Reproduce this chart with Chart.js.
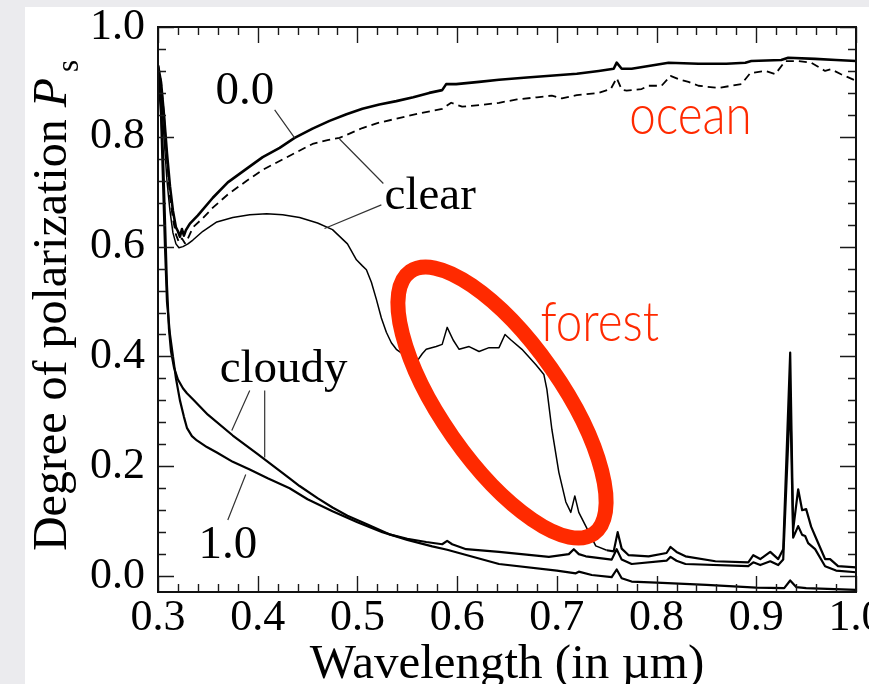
<!DOCTYPE html>
<html lang="en">
<head>
<meta charset="UTF-8" />
<title>Degree of polarization vs wavelength</title>
<script src="https://cdn.jsdelivr.net/npm/chart.js"></script>
<style>
  html, body { margin: 0; padding: 0; background: #ebebee; overflow: hidden; }
  .panel { position: absolute; left: 25px; top: 7px; width: 844px; height: 677px; background: #fff; }
</style>
</head>
<body>
<div class="panel"><canvas id="polChart"></canvas></div>
<script>
// axis ticks
const xTicks = [0.3, 0.4, 0.5, 0.6, 0.7, 0.8, 0.9, 1.0];
const yTicks = [0.0, 0.2, 0.4, 0.6, 0.8, 1.0];

// ocean, cloud optical thickness 0.0 (solid)
const ocean00X = [0.300,0.303,0.306,0.309,0.312,0.315,0.318,0.320,0.322,0.324,0.326,0.328,0.332,0.340,0.355,0.370,0.389,0.405,0.422,0.437,0.455,0.472,0.489,0.505,0.522,0.539,0.556,0.572,0.585,0.589,0.599,0.622,0.642,0.670,0.700,0.720,0.742,0.757,0.760,0.765,0.775,0.792,0.812,0.842,0.870,0.889,0.895,0.925,0.932,0.959,0.980,1.000];
const ocean00Y = [0.930,0.900,0.840,0.770,0.710,0.665,0.635,0.628,0.618,0.632,0.620,0.630,0.642,0.657,0.689,0.717,0.742,0.763,0.780,0.798,0.815,0.829,0.841,0.851,0.859,0.865,0.872,0.880,0.885,0.896,0.896,0.900,0.904,0.908,0.912,0.915,0.920,0.924,0.935,0.924,0.924,0.929,0.935,0.933,0.933,0.935,0.938,0.940,0.944,0.942,0.940,0.938];

// ocean, clear sky (dashed)
const oceanClearX = [0.300,0.303,0.306,0.309,0.312,0.315,0.318,0.321,0.324,0.327,0.330,0.335,0.345,0.355,0.370,0.389,0.405,0.422,0.440,0.455,0.470,0.482,0.505,0.520,0.539,0.560,0.585,0.594,0.605,0.625,0.642,0.660,0.680,0.695,0.705,0.720,0.742,0.754,0.760,0.765,0.770,0.785,0.792,0.805,0.814,0.822,0.832,0.842,0.862,0.885,0.894,0.909,0.919,0.929,0.942,0.955,0.969,0.975,0.985,1.000];
const oceanClearY = [0.930,0.900,0.840,0.760,0.690,0.650,0.622,0.608,0.615,0.606,0.615,0.635,0.652,0.671,0.695,0.720,0.740,0.756,0.773,0.787,0.794,0.798,0.816,0.825,0.833,0.842,0.851,0.862,0.855,0.858,0.862,0.868,0.872,0.875,0.870,0.876,0.880,0.887,0.907,0.886,0.884,0.887,0.893,0.893,0.911,0.905,0.900,0.893,0.889,0.896,0.916,0.920,0.914,0.938,0.938,0.935,0.920,0.923,0.914,0.902];

// forest, clear sky (thin)
const forestClearX = [0.300,0.303,0.306,0.309,0.312,0.315,0.318,0.321,0.325,0.330,0.335,0.345,0.359,0.375,0.392,0.409,0.425,0.442,0.460,0.475,0.490,0.499,0.505,0.509,0.514,0.519,0.524,0.529,0.534,0.539,0.545,0.552,0.560,0.565,0.569,0.579,0.585,0.590,0.596,0.602,0.612,0.622,0.632,0.642,0.648,0.654,0.665,0.679,0.687,0.690,0.695,0.702,0.709,0.714,0.718,0.722,0.729,0.739,0.750,0.757,0.761,0.765,0.772,0.792,0.810,0.814,0.820,0.829,0.859,0.892,0.897,0.904,0.914,0.922,0.927,0.934,0.937,0.942,0.946,0.950,0.955,0.959,0.969,0.974,0.982,1.000];
const forestClearY = [0.930,0.880,0.800,0.720,0.665,0.625,0.605,0.598,0.600,0.605,0.612,0.628,0.645,0.653,0.658,0.660,0.658,0.653,0.643,0.631,0.605,0.576,0.565,0.558,0.535,0.504,0.470,0.444,0.425,0.413,0.405,0.398,0.392,0.405,0.413,0.418,0.422,0.453,0.430,0.413,0.418,0.409,0.416,0.416,0.440,0.430,0.413,0.385,0.367,0.340,0.267,0.189,0.135,0.116,0.146,0.116,0.091,0.055,0.047,0.045,0.080,0.050,0.038,0.036,0.042,0.053,0.044,0.036,0.027,0.025,0.038,0.031,0.044,0.031,0.049,0.407,0.085,0.158,0.120,0.122,0.090,0.073,0.031,0.031,0.018,0.016];

// forest, cloudy
const cloudyX = [0.300,0.303,0.305,0.307,0.309,0.311,0.313,0.316,0.320,0.325,0.329,0.335,0.350,0.375,0.400,0.432,0.442,0.460,0.475,0.490,0.509,0.532,0.550,0.569,0.585,0.590,0.595,0.609,0.642,0.692,0.712,0.717,0.722,0.729,0.755,0.760,0.765,0.775,0.810,0.814,0.820,0.829,0.892,0.897,0.904,0.914,0.922,0.927,0.934,0.937,0.942,0.946,0.949,0.952,0.959,0.969,0.980,1.000];
const cloudyY = [0.930,0.860,0.770,0.650,0.530,0.450,0.410,0.380,0.358,0.342,0.333,0.322,0.294,0.256,0.222,0.178,0.164,0.142,0.125,0.110,0.095,0.076,0.068,0.062,0.058,0.064,0.058,0.049,0.044,0.035,0.040,0.049,0.040,0.036,0.030,0.049,0.030,0.022,0.028,0.035,0.028,0.022,0.018,0.025,0.020,0.027,0.020,0.030,0.330,0.070,0.091,0.075,0.073,0.060,0.049,0.018,0.010,0.007];

// forest, cloud optical thickness 1.0
const cloudy10X = [0.300,0.303,0.305,0.307,0.309,0.312,0.315,0.318,0.322,0.326,0.329,0.334,0.339,0.349,0.359,0.375,0.392,0.410,0.432,0.450,0.475,0.500,0.525,0.550,0.575,0.590,0.600,0.642,0.700,0.719,0.722,0.735,0.755,0.760,0.765,0.775,0.800,0.850,0.900,0.928,0.934,0.940,0.950,1.000];
const cloudy10Y = [0.930,0.840,0.720,0.600,0.500,0.440,0.400,0.360,0.320,0.290,0.270,0.255,0.247,0.235,0.225,0.208,0.194,0.178,0.160,0.140,0.118,0.098,0.080,0.066,0.054,0.048,0.043,0.022,0.010,0.005,0.008,0.002,-0.002,0.012,-0.004,-0.010,-0.012,-0.016,-0.021,-0.022,-0.008,-0.020,-0.022,-0.025];

const serif = '"Liberation Serif", "Times New Roman", serif';
const red = '#ff2a00';

const pts = (xs, ys) => xs.map((x, i) => ({ x, y: ys[i] }));

function line(label, xs, ys, width, extra) {
  return Object.assign({
    label,
    data: pts(xs, ys),
    borderColor: '#000',
    borderWidth: width,
    borderJoinStyle: 'round',
    pointRadius: 0,
    tension: 0,
    fill: false
  }, extra || {});
}

// frame with inward major/minor ticks on all four sides
const frameTicks = {
  id: 'frameTicks',
  afterDraw(chart) {
    const { ctx, chartArea: a, scales: { x, y } } = chart;
    ctx.save();
    ctx.strokeStyle = '#1a1a1a';
    ctx.lineWidth = 1.4;
    ctx.beginPath();
    for (let i = 0; i <= 35; i++) {
      const px = Math.round(x.getPixelForValue(0.3 + i * 0.02)) + 0.5;
      const len = i % 5 === 0 ? 16 : 8;
      ctx.moveTo(px, a.bottom); ctx.lineTo(px, a.bottom - len);
      ctx.moveTo(px, a.top); ctx.lineTo(px, a.top + len);
    }
    for (let i = 0; i <= 25; i++) {
      const py = Math.round(y.getPixelForValue(i * 0.04)) + 0.5;
      const len = i % 5 === 0 ? 16 : 8;
      ctx.moveTo(a.left, py); ctx.lineTo(a.left + len, py);
      ctx.moveTo(a.right, py); ctx.lineTo(a.right - len, py);
    }
    ctx.stroke();
    ctx.lineWidth = 2;
    ctx.strokeStyle = '#111';
    ctx.strokeRect(a.left, a.top, a.right - a.left, a.bottom - a.top);
    ctx.restore();
  }
};

// axis titles
const axisTitles = {
  id: 'axisTitles',
  afterDraw(chart) {
    const { ctx, chartArea: a } = chart;
    ctx.save();
    ctx.fillStyle = '#000';
    ctx.textBaseline = 'alphabetic';
    ctx.font = `49px ${serif}`;
    ctx.textAlign = 'center';
    ctx.fillText('Wavelength (in \u00b5m)', (a.left + a.right) / 2, a.bottom + 86);

    // y title: "Degree of polarization P" with subscript s
    const main = 'Degree of polarization ';
    ctx.font = `48px ${serif}`;
    const w1 = ctx.measureText(main).width;
    ctx.font = `italic 48px ${serif}`;
    const w2 = ctx.measureText('P').width;
    ctx.font = `31px ${serif}`;
    const w3 = ctx.measureText('s').width + 6;
    const total = w1 + w2 + w3;
    ctx.translate(a.left - 92, (a.top + a.bottom) / 2 - 4);
    ctx.rotate(-Math.PI / 2);
    ctx.textAlign = 'left';
    let cx = -total / 2;
    ctx.font = `48px ${serif}`;
    ctx.fillText(main, cx, 0);
    cx += w1;
    ctx.font = `italic 48px ${serif}`;
    ctx.fillText('P', cx, 0);
    cx += w2 + 6;
    ctx.font = `31px ${serif}`;
    ctx.fillText('s', cx, 12);
    ctx.restore();
  }
};

// curve labels, leader lines and highlights
const notes = {
  id: 'notes',
  afterDraw(chart) {
    const { ctx, scales: { x, y } } = chart;
    const P = (u, v) => [x.getPixelForValue(u), y.getPixelForValue(v)];
    ctx.save();

    ctx.strokeStyle = '#333';
    ctx.lineWidth = 1.2;
    const leaders = [
      [0.417, 0.849, 0.437, 0.798],
      [0.526, 0.715, 0.482, 0.796],
      [0.524, 0.676, 0.467, 0.633],
      [0.392, 0.338, 0.374, 0.265],
      [0.407, 0.338, 0.407, 0.216],
      [0.370, 0.102, 0.388, 0.185]
    ];
    ctx.beginPath();
    leaders.forEach(([u1, v1, u2, v2]) => {
      const [x1, y1] = P(u1, v1), [x2, y2] = P(u2, v2);
      ctx.moveTo(x1, y1); ctx.lineTo(x2, y2);
    });
    ctx.stroke();

    ctx.fillStyle = '#000';
    ctx.font = `47px ${serif}`;
    ctx.textAlign = 'center';
    ctx.textBaseline = 'alphabetic';
    [['0.0', 0.387, 0.860], ['clear', 0.573, 0.669], ['cloudy', 0.426, 0.353], ['1.0', 0.370, 0.033]]
      .forEach(([t, u, v]) => { const [px, py] = P(u, v); ctx.fillText(t, px, py); });

    // red highlight ellipse around the forest red edge
    const [ex, ey] = P(0.645, 0.316);
    ctx.strokeStyle = red;
    ctx.lineWidth = 15;
    ctx.beginPath();
    ctx.ellipse(ex, ey, 160, 60, 55 * Math.PI / 180, 0, 2 * Math.PI);
    ctx.stroke();

    ctx.fillStyle = red;
    ctx.font = '300 56px Lato, "Open Sans", sans-serif';
    [['ocean', 0.834, 0.805], ['forest', 0.743, 0.429]].forEach(([t, u, v]) => {
      const [px, py] = P(u, v);
      ctx.save();
      ctx.translate(px, py);
      ctx.scale(0.85, 1);
      ctx.fillText(t, 0, 0);
      ctx.restore();
    });
    ctx.restore();
  }
};

new Chart(document.getElementById('polChart'), {
  type: 'line',
  data: {
    datasets: [
      line('ocean 0.0', ocean00X, ocean00Y, 2.6),
      line('ocean clear', oceanClearX, oceanClearY, 1.8, { borderDash: [8, 5] }),
      // thin over the visible band, heavier once it joins the lower curves
      line('forest clear', forestClearX, forestClearY, 1.5, {
        segment: { borderWidth: c => (c.p0.parsed.x >= 0.74 ? 2.2 : 1.5) }
      }),
      line('forest cloudy', cloudyX, cloudyY, 2.2),
      line('forest cloudy 1.0', cloudy10X, cloudy10Y, 2.2)
    ]
  },
  options: {
    responsive: true,
    maintainAspectRatio: false,
    animation: false,
    layout: { padding: { top: 20, right: 13, left: 0, bottom: 0 } },
    plugins: { legend: { display: false }, tooltip: { enabled: false } },
    scales: {
      x: {
        type: 'linear',
        min: 0.3,
        max: 1.0,
        grid: { display: false },
        border: { display: false },
        ticks: {
          color: '#000',
          font: { family: serif, size: 44 },
          padding: -8,
          maxRotation: 0,
          autoSkip: false,
          callback: v => v.toFixed(1)
        },
        afterBuildTicks: s => { s.ticks = xTicks.map(v => ({ value: v })); },
        afterFit: s => { s.height = 92; s.paddingLeft = 0; s.paddingRight = 0; }
      },
      y: {
        type: 'linear',
        min: -0.029,
        max: 1.0,
        grid: { display: false },
        border: { display: false },
        ticks: {
          color: '#000',
          font: { family: serif, size: 44 },
          padding: 5,
          callback: v => v.toFixed(1)
        },
        afterBuildTicks: s => { s.ticks = yTicks.map(v => ({ value: v })); },
        afterFit: s => { s.width = 133; s.paddingTop = 0; s.paddingBottom = 0; }
      }
    }
  },
  plugins: [frameTicks, axisTitles, notes]
});
</script>
</body>
</html>
